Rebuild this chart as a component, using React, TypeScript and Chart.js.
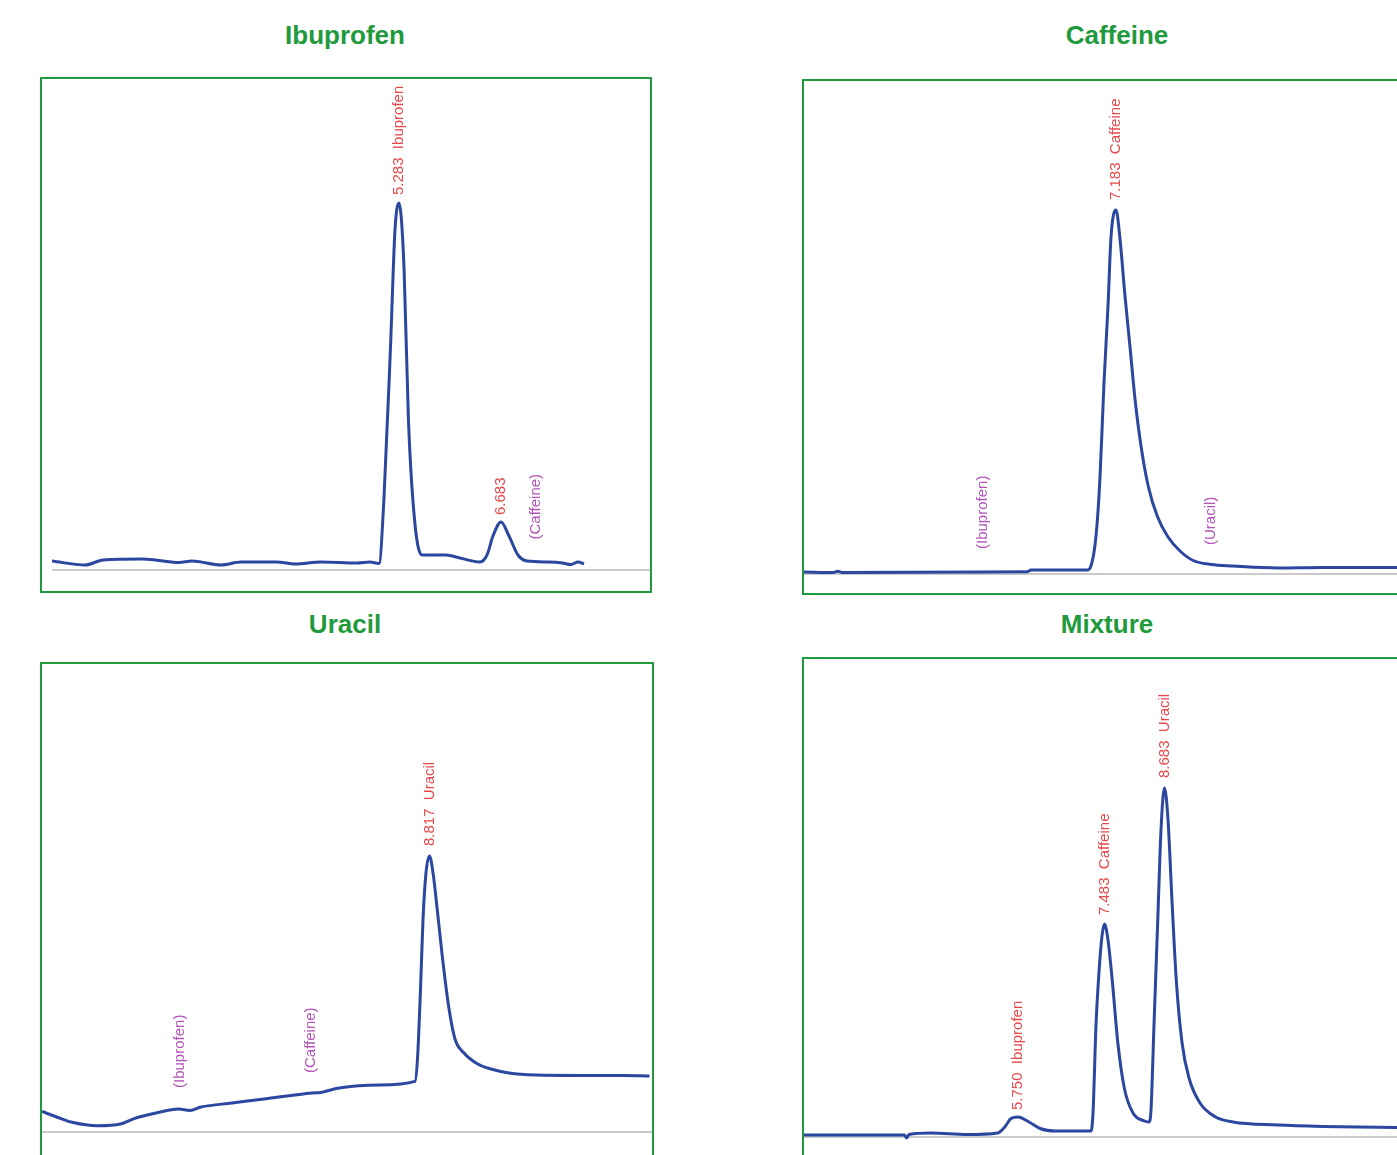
import React, { useEffect, useRef } from "react";
import { Chart, registerables } from "chart.js";

Chart.register(...registerables);

// ---------------- DATA (time in min, detector response in mAU) ----------------
// Ibuprofen standard
const ibuTime = [0.523, 0.976, 1.223, 1.771, 2.265, 2.443, 2.841, 3.116, 3.609, 3.856, 4.213, 4.707, 4.885, 5.009, 5.077, 5.168, 5.228, 5.283, 5.352, 5.413, 5.502, 5.599, 5.928, 6.12, 6.394, 6.49, 6.572, 6.683, 6.792, 6.915, 7.039, 7.341, 7.526, 7.642, 7.739, 7.821];
const ibuSignal = [9, 5, 10, 11, 7.5, 9, 5, 8, 8, 6, 8, 7, 8, 6.5, 72, 226, 340, 367, 302, 149, 46, 15, 15, 12, 8, 15, 34, 48, 34, 15, 9, 8, 7, 5.5, 8, 6];
const ibuLabelText = ["5.283  Ibuprofen", "6.683", "(Caffeine)"];
const ibuLabelTime = [5.283, 6.683, 7.162];
const ibuLabelBase = [375, 55, 30.5];
const ibuLabelKind = ["peak", "peak", "expected"];

// Caffeine standard
const cafTime = [1.983, 2.466, 2.55, 2.62, 4.916, 5.7, 5.766, 6.7, 6.766, 6.85, 6.916, 6.983, 7.05, 7.1, 7.183, 7.25, 7.33, 7.42, 7.5, 7.6, 7.72, 7.87, 8.05, 8.25, 8.47, 8.77, 9.133, 9.883, 10.616, 11.866, 12.25];
const cafSignal = [2, 1.5, 2.8, 1.5, 2, 2.2, 4, 4, 8, 38, 96, 191, 268, 337, 364, 335, 280, 225, 175, 128, 88, 58, 37, 23, 13.5, 9.5, 8, 6, 6.5, 6.5, 6.5];
const cafLabelText = ["7.183  Caffeine", "(Ibuprofen)", "(Uracil)"];
const cafLabelTime = [7.183, 4.966, 8.766];
const cafLabelBase = [374, 25, 29];
const cafLabelKind = ["peak", "expected", "expected"];

// Uracil standard
const uraTime = [3.435, 3.657, 3.838, 4.213, 4.525, 4.713, 5.018, 5.332, 5.49, 5.643, 6.074, 6.574, 7.192, 7.3, 7.56, 8.122, 8.615, 8.649, 8.692, 8.727, 8.768, 8.817, 8.866, 8.928, 8.991, 9.084, 9.171, 9.296, 9.487, 9.671, 9.921, 10.292, 10.907, 11.532, 11.872];
const uraSignal = [20.5, 14.5, 10, 6.3, 8, 13.4, 19, 23, 21.6, 25, 29, 33.6, 39, 39.5, 44, 47, 50.6, 72, 143, 213, 259, 276, 259, 220, 178, 125, 93, 79, 68, 63, 59, 57, 56.6, 56.6, 56];
const uraLabelText = ["8.817  Uracil", "(Ibuprofen)", "(Caffeine)"];
const uraLabelTime = [8.817, 5.352, 7.171];
const uraLabelBase = [286, 44, 59];
const uraLabelKind = ["peak", "expected", "expected"];

// Mixture
const mixTime = [1.474, 3.482, 3.528, 3.574, 4.014, 4.728, 5.35, 5.482, 5.614, 5.75, 5.974, 6.194, 6.506, 7.214, 7.254, 7.314, 7.374, 7.434, 7.483, 7.554, 7.642, 7.75, 7.882, 8.054, 8.282, 8.374, 8.414, 8.474, 8.55, 8.614, 8.683, 8.754, 8.834, 8.922, 9.034, 9.174, 9.394, 9.706, 10.054, 10.95, 11.834, 13.334, 13.794];
const mixSignal = [2, 2, -1, 2.5, 4, 2.5, 4, 9.6, 18.4, 20, 15, 8.5, 6, 6, 24, 112, 165, 201, 213, 197, 155, 94.5, 48.5, 24, 16, 15, 27, 112, 218, 307, 349, 317.5, 236, 155, 94.5, 59, 34, 20, 15, 12, 10.6, 9.6, 9.5];
const mixLabelText = ["5.750  Ibuprofen", "7.483  Caffeine", "8.683  Uracil"];
const mixLabelTime = [5.75, 7.483, 8.683];
const mixLabelBase = [27, 222, 359];
const mixLabelKind = ["peak", "peak", "peak"];

const panelTitles = ["Ibuprofen", "Caffeine", "Uracil", "Mixture"];

// ---------------- STYLE ----------------
const GREEN = "#1f9a3c";
const BLUE = "#2b47a0";
const RED = "#e6494b";
const PURPLE = "#b455b9";
const GRAY = "#b8b8b8";
const FONT = '"Liberation Sans", Arial, Helvetica, sans-serif';

type PanelCfg = {
  title: string;
  titleCx: number;
  titleTop: number;
  box: { left: number; top: number; width: number; height: number };
  xMin: number;
  xMax: number;
  yMin: number;
  yMax: number;
  time: number[];
  signal: number[];
  labelText: string[];
  labelTime: number[];
  labelBase: number[];
  labelKind: string[];
};

const panels: PanelCfg[] = [
  {
    title: panelTitles[0], titleCx: 345, titleTop: 20,
    box: { left: 40, top: 77, width: 612, height: 516 },
    xMin: 0.386, xMax: 8.726, yMin: -21, yMax: 491,
    time: ibuTime, signal: ibuSignal,
    labelText: ibuLabelText, labelTime: ibuLabelTime, labelBase: ibuLabelBase, labelKind: ibuLabelKind,
  },
  {
    title: panelTitles[1], titleCx: 1117, titleTop: 20,
    box: { left: 802, top: 79, width: 620, height: 516 },
    xMin: 1.983, xMax: 12.25, yMin: -19, yMax: 493,
    time: cafTime, signal: cafSignal,
    labelText: cafLabelText, labelTime: cafLabelTime, labelBase: cafLabelBase, labelKind: cafLabelKind,
  },
  {
    title: panelTitles[2], titleCx: 345, titleTop: 609,
    box: { left: 40, top: 662, width: 614, height: 520 },
    xMin: 3.435, xMax: 11.907, yMin: -48, yMax: 468,
    time: uraTime, signal: uraSignal,
    labelText: uraLabelText, labelTime: uraLabelTime, labelBase: uraLabelBase, labelKind: uraLabelKind,
  },
  {
    title: panelTitles[3], titleCx: 1107, titleTop: 609,
    box: { left: 802, top: 657, width: 620, height: 520 },
    xMin: 1.474, xMax: 13.794, yMin: -38, yMax: 478,
    time: mixTime, signal: mixSignal,
    labelText: mixLabelText, labelTime: mixLabelTime, labelBase: mixLabelBase, labelKind: mixLabelKind,
  },
];

const peakLabelPlugin = {
  id: "peakLabels",
  afterDatasetsDraw(chart: any, _args: any, opts: any) {
    const { ctx, scales } = chart;
    const cfg: PanelCfg = opts.cfg;
    if (!cfg) return;
    ctx.save();
    ctx.font = `15px ${FONT}`;
    ctx.textAlign = "left";
    ctx.textBaseline = "middle";
    cfg.labelText.forEach((txt, i) => {
      const px = scales.x.getPixelForValue(cfg.labelTime[i]);
      const py = scales.y.getPixelForValue(cfg.labelBase[i]);
      ctx.save();
      ctx.translate(px, py);
      ctx.rotate(-Math.PI / 2);
      ctx.fillStyle = cfg.labelKind[i] === "peak" ? RED : PURPLE;
      ctx.fillText(txt, 0, 0);
      ctx.restore();
    });
    ctx.restore();
  },
};

function ChromPanel({ cfg }: { cfg: PanelCfg }) {
  const ref = useRef<HTMLCanvasElement | null>(null);
  const innerW = cfg.box.width - 4;
  const innerH = cfg.box.height - 4;

  useEffect(() => {
    if (!ref.current) return;
    const trace = cfg.time.map((t, i) => ({ x: t, y: cfg.signal[i] }));
    const base = [
      { x: cfg.time[0], y: 0 },
      { x: cfg.xMax, y: 0 },
    ];
    const chart = new Chart(ref.current, {
      type: "line",
      data: {
        datasets: [
          {
            data: trace,
            borderColor: BLUE,
            borderWidth: 3,
            pointRadius: 0,
            cubicInterpolationMode: "monotone",
            fill: false,
          },
          {
            data: base,
            borderColor: GRAY,
            borderWidth: 1.5,
            pointRadius: 0,
            fill: false,
          },
        ],
      },
      options: {
        animation: false,
        responsive: false,
        devicePixelRatio: 1,
        parsing: false as any,
        layout: { padding: 0 },
        scales: {
          x: { type: "linear", min: cfg.xMin, max: cfg.xMax, display: false },
          y: { type: "linear", min: cfg.yMin, max: cfg.yMax, display: false },
        },
        plugins: {
          legend: { display: false },
          tooltip: { enabled: false },
          peakLabels: { cfg },
        } as any,
      },
      plugins: [peakLabelPlugin],
    });
    return () => chart.destroy();
  }, [cfg]);

  return (
    <>
      <div
        style={{
          position: "absolute",
          left: cfg.titleCx - 150,
          top: cfg.titleTop,
          width: 300,
          textAlign: "center",
          font: `bold 26px ${FONT}`,
          lineHeight: "30px",
          color: GREEN,
        }}
      >
        {cfg.title}
      </div>
      <div
        style={{
          position: "absolute",
          left: cfg.box.left,
          top: cfg.box.top,
          width: cfg.box.width,
          height: cfg.box.height,
          boxSizing: "border-box",
          border: `2px solid ${GREEN}`,
          background: "#fff",
        }}
      >
        <canvas ref={ref} width={innerW} height={innerH} style={{ display: "block", width: innerW, height: innerH }} />
      </div>
    </>
  );
}

export default function App() {
  return (
    <div
      style={{
        position: "fixed",
        left: 0,
        top: 0,
        width: "100vw",
        height: "100vh",
        overflow: "hidden",
        background: "#fff",
      }}
    >
      {panels.map((p) => (
        <ChromPanel key={p.title} cfg={p} />
      ))}
    </div>
  );
}
